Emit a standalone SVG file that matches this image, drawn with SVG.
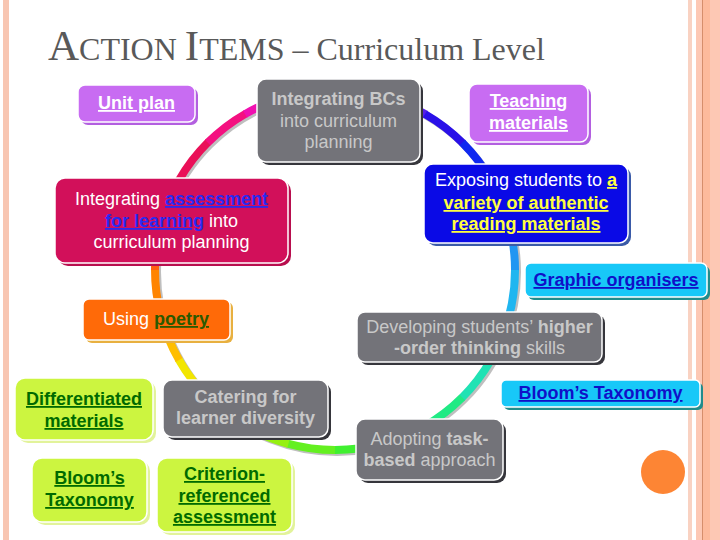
<svg xmlns="http://www.w3.org/2000/svg" width="720" height="540" viewBox="0 0 720 540">
<style>
text{font-family:"Liberation Sans",Arial,sans-serif;font-size:18px;text-anchor:middle}
.b{font-weight:bold}
.u{text-decoration:underline;font-weight:bold}
.box{stroke:#fff;stroke-width:1.5}
.seg{fill:none;stroke-width:8}
.purple{fill:#c86cf2}.purple-s{fill:#b35fe0}
.gray{fill:#737379}.gray-s{fill:#36363c}
.blue{fill:#0a0ae6}.blue-s{fill:#3a5aa8}
.crim{fill:#d2105a}.crim-s{fill:#b80e4e}
.cyan{fill:#18c8f8}.cyan-s{fill:#1f8c8c}
.orng{fill:#ff6a08}.orng-s{fill:#e8b040}
.ygrn{fill:#ccf540}.ygrn-s{fill:#e2f39a}
.tg{fill:#c8c8c8}.tw{fill:#fff}.ty{fill:#ffff40}.tb{fill:#1010c8}.tl{fill:#2a2af0}.td{fill:#006a00}
</style>
<rect width="720" height="540" fill="#fff"/>
<!-- borders -->
<rect x="3" y="0" width="6" height="540" fill="#f8c6b2"/>
<rect x="688" y="0" width="4" height="540" fill="#f9d2c2"/>
<rect x="696" y="0" width="24" height="540" fill="#fdc8b4"/>
<rect x="703" y="0" width="7" height="540" fill="#fdba9c"/>
<rect x="702" y="0" width="1" height="540" fill="#d68e6c"/>
<!-- title -->
<text x="48" y="60" style="font-family:'Liberation Serif','Times New Roman',serif;text-anchor:start;fill:#595959;font-size:32px"><tspan font-size="43">A</tspan>CTION <tspan font-size="43">I</tspan>TEMS – Curriculum Level</text>
<!-- connectors: rainbow ring -->
<g id="connectors">
<circle cx="337" cy="272" r="180" fill="none" stroke="#8a8a8a" stroke-width="8" opacity="0.55"/>
<path class="seg" stroke="#9a20e0" d="M335,90 A180,180 0 0 1 382.5,96.4"/>
<path class="seg" stroke="#5520ea" d="M381.6,96.1 A180,180 0 0 1 425.9,114.5"/>
<path class="seg" stroke="#2a10e8" d="M425,114.1 A180,180 0 0 1 463,143.3"/>
<path class="seg" stroke="#1028f0" d="M462.3,142.7 A180,180 0 0 1 491.4,180.8"/>
<path class="seg" stroke="#1468f2" d="M490.9,180 A180,180 0 0 1 509.1,224.3"/>
<path class="seg" stroke="#2096f2" d="M508.9,223.4 A180,180 0 0 1 515,270.9"/>
<path class="seg" stroke="#20b6f0" d="M515,270 A180,180 0 0 1 508.7,317.5"/>
<path class="seg" stroke="#20d2e0" d="M508.9,316.6 A180,180 0 0 1 490.4,360.8"/>
<path class="seg" stroke="#20e2b4" d="M490.9,360 A180,180 0 0 1 461.7,398"/>
<path class="seg" stroke="#20ea84" d="M462.3,397.3 A180,180 0 0 1 424.2,426.4"/>
<path class="seg" stroke="#30f058" d="M425,425.9 A180,180 0 0 1 380.7,444.1"/>
<path class="seg" stroke="#40f030" d="M381.6,443.9 A180,180 0 0 1 334.1,450"/>
<path class="seg" stroke="#64f020" d="M335,450 A180,180 0 0 1 287.5,443.6"/>
<path class="seg" stroke="#96f010" d="M288.4,443.9 A180,180 0 0 1 244.2,425.5"/>
<path class="seg" stroke="#c6f000" d="M245,425.9 A180,180 0 0 1 207,396.7"/>
<path class="seg" stroke="#f2e600" d="M207.7,397.3 A180,180 0 0 1 178.6,359.2"/>
<path class="seg" stroke="#ffbe00" d="M179.1,360 A180,180 0 0 1 160.9,315.7"/>
<path class="seg" stroke="#ff8400" d="M161.1,316.6 A180,180 0 0 1 155,269.1"/>
<path class="seg" stroke="#ff6010" d="M155,270 A180,180 0 0 1 161.3,222.5"/>
<path class="seg" stroke="#f42c3c" d="M161.1,223.4 A180,180 0 0 1 179.6,179.2"/>
<path class="seg" stroke="#ea1058" d="M179.1,180 A180,180 0 0 1 208.3,142"/>
<path class="seg" stroke="#f41080" d="M207.7,142.7 A180,180 0 0 1 245.8,113.6"/>
<path class="seg" stroke="#f010b0" d="M245,114.1 A180,180 0 0 1 289.3,95.9"/>
<path class="seg" stroke="#d010d8" d="M288.4,96.1 A180,180 0 0 1 335.9,90"/>
</g>
<!-- nodes -->
<g id="unit-plan">
<rect class="purple-s" x="81" y="88" width="117" height="37" rx="7"/>
<rect class="purple box" x="78" y="85" width="117" height="37" rx="7"/>
<text x="136.5" y="109" class="u tw">Unit plan</text>
</g>
<g id="integrating-bcs">
<rect class="gray-s" x="260" y="82" width="163" height="83" rx="9"/>
<rect class="gray box" x="257" y="79" width="163" height="83" rx="9"/>
<text x="338.5" y="105" class="b tg">Integrating BCs</text>
<text x="338.5" y="127" class="tg">into curriculum</text>
<text x="338.5" y="148" class="tg">planning</text>
</g>
<g id="teaching-materials">
<rect class="purple-s" x="472" y="87" width="119" height="58" rx="8"/>
<rect class="purple box" x="469" y="84" width="119" height="58" rx="8"/>
<text x="528.5" y="107" class="u tw">Teaching</text>
<text x="528.5" y="129" class="u tw">materials</text>
</g>
<g id="exposing-students">
<rect class="blue-s" x="427" y="167" width="204" height="79" rx="9"/>
<rect class="blue box" x="424" y="164" width="204" height="79" rx="9"/>
<text x="526" y="186" class="tw">Exposing students to <tspan class="u ty">a</tspan></text>
<text x="526" y="209" class="u ty">variety of authentic</text>
<text x="526" y="230" class="u ty">reading materials</text>
</g>
<g id="integrating-assessment">
<rect class="crim-s" x="58" y="181" width="233" height="85" rx="10"/>
<rect class="crim box" x="55" y="178" width="233" height="85" rx="10"/>
<text x="171.5" y="205" class="tw">Integrating <tspan class="u tl">assessment</tspan></text>
<text x="171.5" y="227" class="tw"><tspan class="u tl">for learning</tspan> into</text>
<text x="171.5" y="248" class="tw">curriculum planning</text>
</g>
<g id="graphic-organisers">
<rect class="cyan-s" x="528" y="266" width="182" height="34" rx="6"/>
<rect class="cyan box" x="525" y="263" width="182" height="34" rx="6"/>
<text x="616" y="286" class="u tb">Graphic organisers</text>
</g>
<g id="developing-students">
<rect class="gray-s" x="360" y="315" width="245" height="50" rx="8"/>
<rect class="gray box" x="357" y="312" width="245" height="50" rx="8"/>
<text x="479.5" y="333" class="tg">Developing students’ <tspan class="b">higher</tspan></text>
<text x="479.5" y="354" class="tg"><tspan class="b">-order thinking</tspan> skills</text>
</g>
<g id="blooms-taxonomy-right">
<rect class="cyan-s" x="504" y="383" width="199" height="27" rx="5"/>
<rect class="cyan box" x="501" y="380" width="199" height="27" rx="5"/>
<text x="600.5" y="399" class="u tb">Bloom’s Taxonomy</text>
</g>
<g id="using-poetry">
<rect class="orng-s" x="86" y="302" width="147" height="41" rx="6"/>
<rect class="orng box" x="83" y="299" width="147" height="41" rx="6"/>
<text x="156" y="325" class="tw">Using <tspan class="u" fill="#2a5a00">poetry</tspan></text>
</g>
<g id="differentiated-materials">
<rect class="ygrn-s" x="18" y="381" width="138" height="62" rx="10"/>
<rect class="ygrn box" x="15" y="378" width="138" height="62" rx="10"/>
<text x="84" y="405" class="u td">Differentiated</text>
<text x="84" y="427" class="u td">materials</text>
</g>
<g id="catering-diversity">
<rect class="gray-s" x="166" y="383" width="165" height="57" rx="9"/>
<rect class="gray box" x="163" y="380" width="165" height="57" rx="9"/>
<text x="245.5" y="403" class="b tg">Catering for</text>
<text x="245.5" y="424" class="b tg">learner diversity</text>
</g>
<g id="blooms-taxonomy-left">
<rect class="ygrn-s" x="35" y="461" width="115" height="64" rx="10"/>
<rect class="ygrn box" x="32" y="458" width="115" height="64" rx="10"/>
<text x="89.5" y="484" class="u td">Bloom’s</text>
<text x="89.5" y="506" class="u td">Taxonomy</text>
</g>
<g id="criterion-referenced">
<rect class="ygrn-s" x="160" y="461" width="135" height="74" rx="10"/>
<rect class="ygrn box" x="157" y="458" width="135" height="74" rx="10"/>
<text x="224.5" y="480" class="u td">Criterion-</text>
<text x="224.5" y="502" class="u td">referenced</text>
<text x="224.5" y="523" class="u td">assessment</text>
</g>
<g id="adopting-task-based">
<rect class="gray-s" x="359" y="422" width="147" height="61" rx="9"/>
<rect class="gray box" x="356" y="419" width="147" height="61" rx="9"/>
<text x="429.5" y="445" class="tg">Adopting <tspan class="b">task-</tspan></text>
<text x="429.5" y="466" class="tg"><tspan class="b">based</tspan> approach</text>
</g>
<circle cx="663" cy="472" r="22" fill="#fd8534"/>
</svg>
